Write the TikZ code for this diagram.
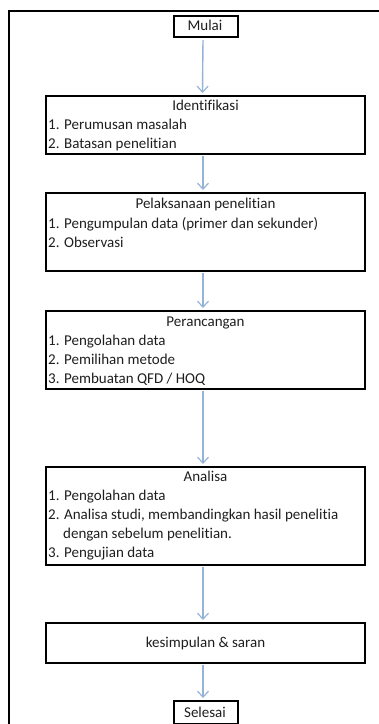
\documentclass[tikz,border=0pt]{standalone}
\usepackage{fontspec}
\setmainfont{Carlito}[Ligatures={NoCommon,NoContextual}]
\usetikzlibrary{arrows.meta}
\definecolor{arrowblue}{RGB}{149,179,215}
\definecolor{txt}{RGB}{30,30,30}
\tikzset{
  box/.style={draw=black, line width=2pt, rectangle, inner sep=0pt, anchor=north west},
  ln/.style={anchor=base west, inner sep=0pt, text=txt, font=\fontsize{15}{19}\selectfont},
  ttl/.style={anchor=base, inner sep=0pt, text=txt, font=\fontsize{15}{19}\selectfont},
  arr/.style={draw=arrowblue, line width=1.4pt, -{Straight Barb[length=6pt,width=11pt,line width=1.2pt]}}
}
\begin{document}
\begin{tikzpicture}[x=1pt,y=-1pt]
\useasboundingbox (0,0) rectangle (379,724);
\draw[line width=2pt] (8.5,724) -- (8.5,11) -- (380,11);

% boxes
\node[box, minimum width=64pt, minimum height=21pt] (mulai) at (172.5,15) {};
\node[box, minimum width=319pt, minimum height=58pt] (ident) at (44.5,95) {};
\node[box, minimum width=319pt, minimum height=78pt] (pelak) at (44.5,192) {};
\node[box, minimum width=319pt, minimum height=78pt] (peran) at (44.5,310) {};
\node[box, minimum width=319pt, minimum height=98pt] (anal) at (44.5,466) {};
\node[box, minimum width=319pt, minimum height=40pt] (kesim) at (44.5,622) {};
\node[box, minimum width=64pt, minimum height=23pt] (selesai) at (172.5,700) {};

% texts
\node[ttl] (tmulai) at (205,30.5) {Mulai};

\node[ttl] (tident) at (205.5,110.5) {Identifikasi};
\node[ln] (i1) at (48,129.5) {1. Perumusan masalah};
\node[ln] (i2) at (48,148.5) {2. Batasan penelitian};

\node[ttl] (tpelak) at (205.5,208) {Pelaksanaan penelitian};
\node[ln] (p1) at (48,228) {1. Pengumpulan data (primer dan sekunder)};
\node[ln] (p2) at (48,247) {2. Observasi};

\node[ttl] (tperan) at (205.5,326.5) {Perancangan};
\node[ln] (r1) at (48,345.5) {1. Pengolahan data};
\node[ln] (r2) at (48,364.5) {2. Pemilihan metode};
\node[ln] (r3) at (48,383.5) {3. Pembuatan QFD / HOQ};

\node[ttl] (tanal) at (205.5,481.5) {Analisa};
\node[ln] (a1) at (48,500.5) {1. Pengolahan data};
\node[ln] (a2) at (48,519.5) {2. Analisa studi, membandingkan hasil penelitia};
\node[ln] (a2b) at (63,538.5) {dengan sebelum penelitian.};
\node[ln] (a3) at (48,557.5) {3. Pengujian data};

\node[ttl] (tkesim) at (205.5,647) {kesimpulan \& saran};
\node[ttl] (tselesai) at (205,717) {Selesai};

% arrows
\draw[arr] ([xshift=-2.5pt,yshift=-2pt]mulai.south) -- ([xshift=-2.5pt,yshift=2pt]ident.north);
\draw[arr] ([xshift=-2pt,yshift=-1pt]ident.south) -- ([xshift=-2pt,yshift=2pt]pelak.north);
\draw[arr] ([xshift=-2pt,yshift=-1pt]pelak.south) -- ([xshift=-2pt,yshift=2pt]peran.north);
\draw[arr] ([xshift=-2pt,yshift=-1pt]peran.south) -- ([xshift=-2pt,yshift=2pt]anal.north);
\draw[arr] ([xshift=-2pt,yshift=-1pt]anal.south) -- ([xshift=-2pt,yshift=2pt]kesim.north);
\draw[arr] ([xshift=-2pt,yshift=-1pt]kesim.south) -- ([xshift=-2.5pt,yshift=2pt]selesai.north);
\end{tikzpicture}
\end{document}
